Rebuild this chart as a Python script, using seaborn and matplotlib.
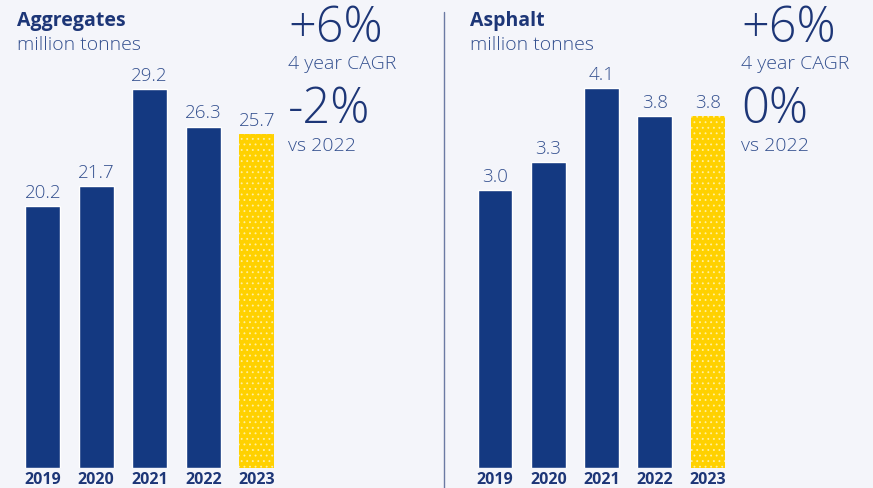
import seaborn as sns
import pandas as pd
import matplotlib.pyplot as plt
from matplotlib.lines import Line2D

years = ["2019", "2020", "2021", "2022", "2023"]
aggregates = [20.2, 21.7, 29.2, 26.3, 25.7]
asphalt = [3.0, 3.3, 4.1, 3.8, 3.8]
agg_cagr, agg_vs = "+6%", "-2%"
asp_cagr, asp_vs = "+6%", "0%"

NAVY = "#143981"
YELLOW = "#ffd100"
BG = "#f4f5fa"
TXT = "#1d3677"
LIGHT = "#34508f"

sns.set_style("white")
plt.rcParams['font.family'] = ['Open Sans', 'DejaVu Sans']
plt.rcParams['hatch.linewidth'] = 0.6

W, H = 873, 488
fig = plt.figure(figsize=(W / 100, H / 100), dpi=100, facecolor=BG)

def px(x, y):
    return x / W, 1 - y / H

def panel(left, width, values, ymax, title, cagr, vs, tx):
    ax = fig.add_axes([left / W, 20 / H, width / W, 468 / H])
    df = pd.DataFrame({"year": years, "value": values})
    pal = {y: NAVY for y in years}
    pal["2023"] = YELLOW
    sns.barplot(data=df, x="year", y="value", hue="year", palette=pal,
                width=0.65, legend=False, ax=ax, saturation=1)
    # speckled look of the latest year
    ax.patches[-1].set_hatch("...")
    ax.patches[-1].set_edgecolor("#fff0a0")
    ax.patches[-1].set_linewidth(0)
    for c in ax.containers:
        ax.bar_label(c, fmt="%.1f", padding=3, fontsize=13.5,
                     color=LIGHT, fontweight="light")
    ax.set_xlim(-0.5, 4.5)
    ax.set_ylim(0, ymax)
    ax.set_facecolor(BG)
    ax.set_xlabel("")
    ax.set_ylabel("")
    ax.set_yticks([])
    ax.tick_params(axis="x", length=0, pad=3, labelsize=11.5, labelcolor=TXT)
    for t in ax.get_xticklabels():
        t.set_fontweight("bold")
    sns.despine(ax=ax, left=True, bottom=True)
    x0 = left + 1
    fig.text(*px(x0, 21), title, fontsize=14, fontweight="bold", color=TXT, va="center")
    fig.text(*px(x0, 45), "million tonnes", fontsize=14, color=LIGHT,
             fontweight="light", va="center")
    fig.text(*px(tx, 29), cagr, fontsize=35, color=TXT, fontweight="light", va="center")
    fig.text(*px(tx, 64), "4 year CAGR", fontsize=14, color=LIGHT,
             fontweight="light", va="center")
    fig.text(*px(tx, 110), vs, fontsize=35, color=TXT, fontweight="light", va="center")
    fig.text(*px(tx, 146), "vs 2022", fontsize=14, color=LIGHT,
             fontweight="light", va="center")
    return ax

panel(16, 267.5, aggregates, 468 / 12.98, "Aggregates", agg_cagr, agg_vs, 288)
panel(468.5, 266, asphalt, 468 / 92.7, "Asphalt", asp_cagr, asp_vs, 741)

fig.add_artist(Line2D([444 / W, 444 / W], [0, 1 - 12 / H], color="#6b7aa3", lw=1))

fig.savefig("out.png", dpi=100, facecolor=BG)
